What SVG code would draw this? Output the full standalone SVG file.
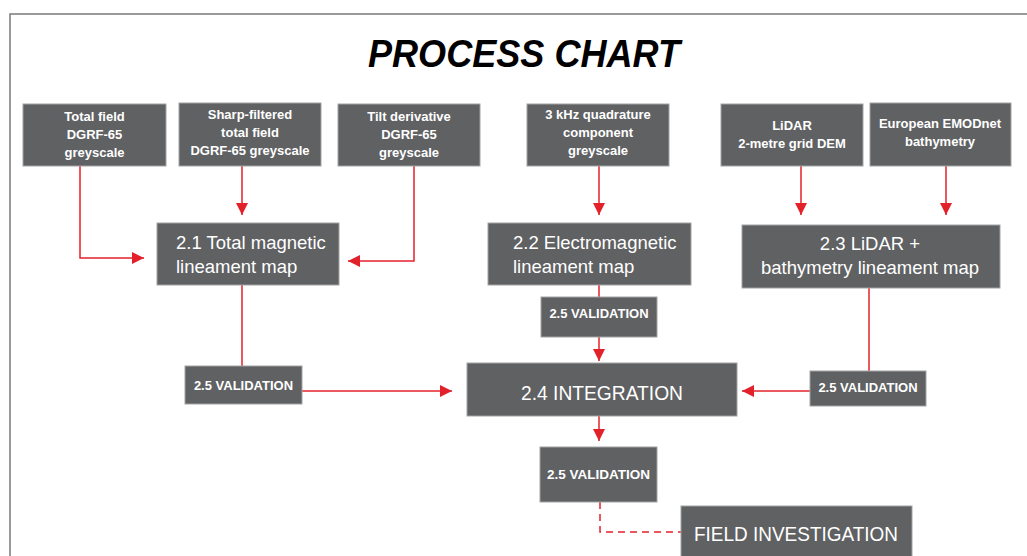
<svg xmlns="http://www.w3.org/2000/svg" width="1027" height="556" viewBox="0 0 1027 556">
<defs>
<style>
.box{fill:#5f6163;stroke:#a3a3a3;stroke-width:1}
.src{font-family:"Liberation Sans",Arial,sans-serif;font-weight:bold;font-size:13px;fill:#ffffff;text-anchor:middle}
.big{font-family:"Liberation Sans",Arial,sans-serif;font-size:18.5px;fill:#ffffff}
.val{font-family:"Liberation Sans",Arial,sans-serif;font-weight:bold;font-size:13px;fill:#ffffff;text-anchor:middle}
.con{fill:none;stroke:#e3212b;stroke-width:1.5}
.dash{fill:none;stroke:#e3212b;stroke-width:1.5;stroke-dasharray:7,5}
</style>
<marker id="arr" viewBox="0 0 10 10" refX="10" refY="5" markerUnits="userSpaceOnUse" markerWidth="12" markerHeight="12" orient="auto">
<path d="M0,0 L10,5 L0,10 z" fill="#e3212b"/>
</marker>
</defs>
<rect x="0" y="0" width="1027" height="556" fill="#ffffff"/>
<rect x="10" y="14" width="1030" height="560" fill="none" stroke="#7a7a7a" stroke-width="1.5"/>
<text x="524" y="67" font-family="'Liberation Sans',Arial,sans-serif" font-weight="bold" font-style="italic" font-size="38" text-anchor="middle" textLength="312" lengthAdjust="spacingAndGlyphs" fill="#000000">PROCESS CHART</text>

<g id="connectors">
<path class="con" d="M80,166 V258 H144" marker-end="url(#arr)"/>
<path class="con" d="M242,166 V215" marker-end="url(#arr)"/>
<path class="con" d="M414,166 V261 H348" marker-end="url(#arr)"/>
<path class="con" d="M242,285 V366"/>
<path class="con" d="M302,391 H452" marker-end="url(#arr)"/>
<path class="con" d="M599,166 V215" marker-end="url(#arr)"/>
<path class="con" d="M599,285 V297"/>
<path class="con" d="M599,337 V361" marker-end="url(#arr)"/>
<path class="con" d="M801,166 V215" marker-end="url(#arr)"/>
<path class="con" d="M946,166 V215" marker-end="url(#arr)"/>
<path class="con" d="M869,288 V371"/>
<path class="con" d="M810,391 H742" marker-end="url(#arr)"/>
<path class="con" d="M599,416 V441" marker-end="url(#arr)"/>
<path class="dash" d="M600,502 V532 H681"/>
</g>

<g id="src-total-field">
<rect class="box" x="23" y="104" width="143" height="62"/>
<text class="src" x="94.5" y="121">Total field</text>
<text class="src" x="94.5" y="139">DGRF-65</text>
<text class="src" x="94.5" y="157">greyscale</text>
</g>
<g id="src-sharp-filtered">
<rect class="box" x="179" y="103" width="142" height="63"/>
<text class="src" x="250" y="119">Sharp-filtered</text>
<text class="src" x="250" y="137">total field</text>
<text class="src" x="250" y="155">DGRF-65 greyscale</text>
</g>
<g id="src-tilt">
<rect class="box" x="338" y="104" width="142" height="62"/>
<text class="src" x="409" y="121">Tilt derivative</text>
<text class="src" x="409" y="139">DGRF-65</text>
<text class="src" x="409" y="157">greyscale</text>
</g>
<g id="src-3khz">
<rect class="box" x="527" y="104" width="142" height="62"/>
<text class="src" x="598" y="119">3 kHz quadrature</text>
<text class="src" x="598" y="137">component</text>
<text class="src" x="598" y="155">greyscale</text>
</g>
<g id="src-lidar">
<rect class="box" x="721" y="104" width="142" height="62"/>
<text class="src" x="792" y="130">LiDAR</text>
<text class="src" x="792" y="148">2-metre grid DEM</text>
</g>
<g id="src-emodnet">
<rect class="box" x="870" y="103" width="141" height="63"/>
<text class="src" x="940" y="128">European EMODnet</text>
<text class="src" x="940" y="146">bathymetry</text>
</g>

<g id="n21-magnetic">
<rect class="box" x="157" y="223" width="182" height="62"/>
<text class="big" x="176" y="249">2.1 Total magnetic</text>
<text class="big" x="176" y="273">lineament map</text>
</g>
<g id="n22-electromagnetic">
<rect class="box" x="488" y="223" width="203" height="62"/>
<text class="big" x="513" y="249">2.2 Electromagnetic</text>
<text class="big" x="513" y="273">lineament map</text>
</g>
<g id="n23-lidar">
<rect class="box" x="742" y="225" width="258" height="63"/>
<text class="big" x="870" y="250" text-anchor="middle">2.3 LiDAR +</text>
<text class="big" x="870" y="274" text-anchor="middle">bathymetry lineament map</text>
</g>

<g id="val-1">
<rect class="box" x="185" y="366" width="117" height="38"/>
<text class="val" x="243.5" y="390">2.5 VALIDATION</text>
</g>
<g id="val-2">
<rect class="box" x="541" y="297" width="116" height="40"/>
<text class="val" x="599" y="318">2.5 VALIDATION</text>
</g>
<g id="val-3">
<rect class="box" x="810" y="371" width="116" height="35"/>
<text class="val" x="868" y="392">2.5 VALIDATION</text>
</g>

<g id="n24-integration">
<rect class="box" x="467" y="363" width="270" height="53"/>
<text x="602" y="400" font-family="'Liberation Sans',Arial,sans-serif" font-size="21" fill="#ffffff" text-anchor="middle" textLength="162" lengthAdjust="spacingAndGlyphs">2.4 INTEGRATION</text>
</g>

<g id="val-4">
<rect class="box" x="540" y="447" width="117" height="55"/>
<text class="val" x="598.5" y="479" textLength="103" lengthAdjust="spacingAndGlyphs">2.5 VALIDATION</text>
</g>

<g id="field-investigation">
<rect class="box" x="681" y="506" width="231" height="60"/>
<text x="796" y="541" font-family="'Liberation Sans',Arial,sans-serif" font-size="21" fill="#ffffff" text-anchor="middle" textLength="204" lengthAdjust="spacingAndGlyphs">FIELD INVESTIGATION</text>
</g>
</svg>
